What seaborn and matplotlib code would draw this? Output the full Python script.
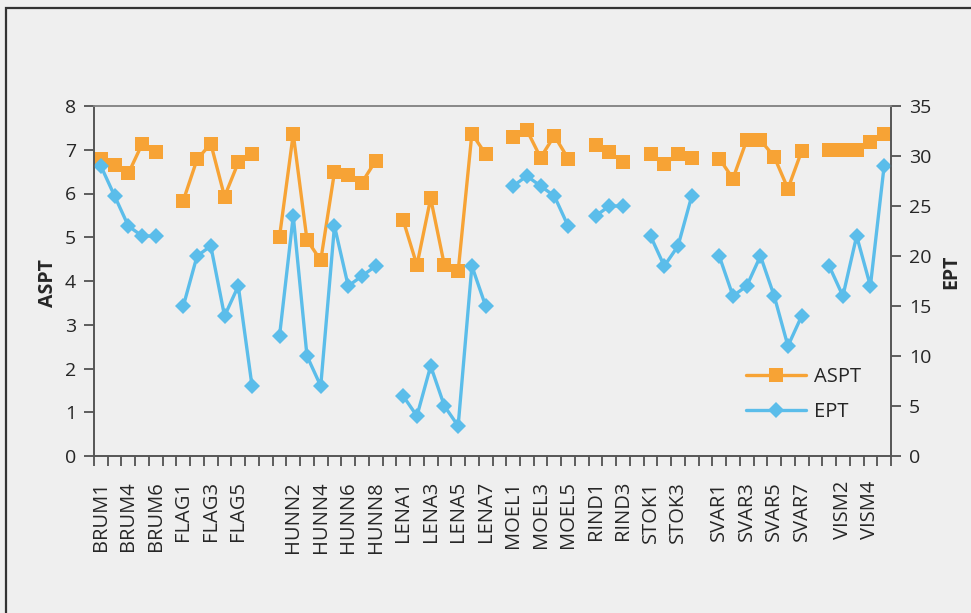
import numpy as np
import pandas as pd
import matplotlib.pyplot as plt
import seaborn as sns
from matplotlib.lines import Line2D
from matplotlib.patches import Rectangle

# site groups along the x axis (one blank category between groups)
groups = ['BRUM', 'FLAG', 'HUNN', 'LENA', 'MOEL', 'RIND', 'STOK', 'SVAR', 'VISM']
brum_sites = ['BRUM1', 'BRUM3', 'BRUM4', 'BRUM5', 'BRUM6']
flag_sites = ['FLAG1', 'FLAG2', 'FLAG3', 'FLAG4', 'FLAG5', 'FLAG6']
hunn_sites = ['HUNN1', 'HUNN2', 'HUNN3', 'HUNN4', 'HUNN5', 'HUNN6', 'HUNN7', 'HUNN8']
lena_sites = ['LENA1', 'LENA2', 'LENA3', 'LENA4', 'LENA5', 'LENA6', 'LENA7']
moel_sites = ['MOEL1', 'MOEL2', 'MOEL3', 'MOEL4', 'MOEL5']
rind_sites = ['RIND1', 'RIND2', 'RIND3']
stok_sites = ['STOK1', 'STOK2', 'STOK3', 'STOK4']
svar_sites = ['SVAR1', 'SVAR2', 'SVAR3', 'SVAR4', 'SVAR5', 'SVAR6', 'SVAR7']
vism_sites = ['VISM1', 'VISM2', 'VISM3', 'VISM4', 'VISM5']

# ASPT (left axis)
brum_aspt = [6.78, 6.65, 6.46, 7.13, 6.95]
flag_aspt = [5.84, 6.78, 7.14, 5.93, 6.71, 6.91]
hunn_aspt = [5.01, 7.36, 4.94, 4.47, 6.49, 6.42, 6.25, 6.75]
lena_aspt = [5.39, 4.36, 5.89, 4.36, 4.22, 7.37, 6.90]
moel_aspt = [7.30, 7.45, 6.82, 7.32, 6.80]
rind_aspt = [7.10, 6.94, 6.73]
stok_aspt = [6.90, 6.67, 6.90, 6.82]
svar_aspt = [6.80, 6.34, 7.22, 7.22, 6.84, 6.11, 6.97]
vism_aspt = [6.99, 6.99, 6.99, 7.18, 7.37]

# EPT (right axis)
brum_ept = [29, 26, 23, 22, 22]
flag_ept = [15, 20, 21, 14, 17, 7]
hunn_ept = [12, 24, 10, 7, 23, 17, 18, 19]
lena_ept = [6, 4, 9, 5, 3, 19, 15]
moel_ept = [27, 28, 27, 26, 23]
rind_ept = [24, 25, 25]
stok_ept = [22, 19, 21, 26]
svar_ept = [20, 16, 17, 20, 16, 11, 14]
vism_ept = [19, 16, 22, 17, 29]

# labels printed under the axis
shown_labels = ['BRUM1', 'BRUM4', 'BRUM6', 'FLAG1', 'FLAG3', 'FLAG5',
                'HUNN2', 'HUNN4', 'HUNN6', 'HUNN8', 'LENA1', 'LENA3', 'LENA5', 'LENA7',
                'MOEL1', 'MOEL3', 'MOEL5', 'RIND1', 'RIND3', 'STOK1', 'STOK3',
                'SVAR1', 'SVAR3', 'SVAR5', 'SVAR7', 'VISM2', 'VISM4']

site_lists = [brum_sites, flag_sites, hunn_sites, lena_sites, moel_sites,
              rind_sites, stok_sites, svar_sites, vism_sites]
aspt_lists = [brum_aspt, flag_aspt, hunn_aspt, lena_aspt, moel_aspt,
              rind_aspt, stok_aspt, svar_aspt, vism_aspt]
ept_lists = [brum_ept, flag_ept, hunn_ept, lena_ept, moel_ept,
             rind_ept, stok_ept, svar_ept, vism_ept]

# build category axis with a blank slot between groups
categories = []
rows = []
for g, sites, a, e in zip(groups, site_lists, aspt_lists, ept_lists):
    if categories:
        categories.append('')
    for s, av, ev in zip(sites, a, e):
        rows.append({'group': g, 'site': s, 'pos': len(categories), 'ASPT': av, 'EPT': ev})
        categories.append(s)
df = pd.DataFrame(rows)

orange = '#F7A335'
blue = '#5BBDEA'
bg = '#EFEFEF'

sns.set_style('ticks')
plt.rcParams['font.family'] = ['Open Sans', 'DejaVu Sans']

fig = plt.figure(figsize=(9.71, 6.13), dpi=100, facecolor=bg)
ax = fig.add_axes([94 / 971, 1 - 456 / 613, 797 / 971, 350 / 613])
ax.set_facecolor(bg)
ax2 = ax.twinx()

sns.lineplot(data=df, x='pos', y='ASPT', units='group', estimator=None,
             color=orange, lw=2.4, marker='s', markersize=10, markeredgewidth=0,
             ax=ax, legend=False)
sns.lineplot(data=df, x='pos', y='EPT', units='group', estimator=None,
             color=blue, lw=2.4, marker='D', markersize=8.5, markeredgewidth=0,
             ax=ax2, legend=False)

ax.set_xlim(-0.5, len(categories) - 0.5)
ax.set_ylim(0, 8)
ax2.set_ylim(0, 35)
ax.set_yticks(range(0, 9))
ax2.set_yticks(range(0, 36, 5))

label_pos = [categories.index(s) for s in shown_labels]
ax.set_xticks(label_pos)
ax.set_xticklabels(shown_labels, rotation=90, fontsize=14.5)
ax.set_xticks(np.arange(-0.5, len(categories), 1), minor=True)
ax.tick_params(axis='x', which='major', length=0, pad=18)
ax.tick_params(axis='x', which='minor', length=7, width=1.2, color='#444444', direction='out')
ax.tick_params(axis='y', labelsize=14, length=7, width=1.2, color='#444444', pad=6)
ax2.tick_params(axis='y', labelsize=14, length=7, width=1.2, color='#444444', pad=6)

ax.set_xlabel('')
ax.set_ylabel('')
ax2.set_ylabel('')
for a in (ax, ax2):
    for sp in a.spines.values():
        sp.set_color('#555555')
        sp.set_linewidth(1.2)
ax.spines['top'].set_color('#888888')
ax2.spines['top'].set_color('#888888')

fig.text(48 / 971, 1 - 283 / 613, 'ASPT', rotation=90, fontsize=14, fontweight='bold',
         ha='center', va='center')
fig.text(951 / 971, 1 - 272 / 613, 'EPT', rotation=90, fontsize=14, fontweight='bold',
         ha='center', va='center')

handles = [Line2D([], [], color=orange, lw=2.4, marker='s', markersize=10, markeredgewidth=0),
           Line2D([], [], color=blue, lw=2.4, marker='D', markersize=8.5, markeredgewidth=0)]
ax2.legend(handles, ['ASPT', 'EPT'], loc='lower left', bbox_to_anchor=(0.795, 0.045),
           frameon=False, fontsize=14.5, handlelength=3.0, handletextpad=0.4, labelspacing=0.75)

# outer frame of the figure
fig.patches.append(Rectangle((6 / 971, -0.1), 1.2, 0.1 + 1 - 8 / 613, transform=fig.transFigure,
                             fill=False, edgecolor='#333333', lw=1.6))

fig.savefig('out.png', dpi=100, facecolor=bg)
